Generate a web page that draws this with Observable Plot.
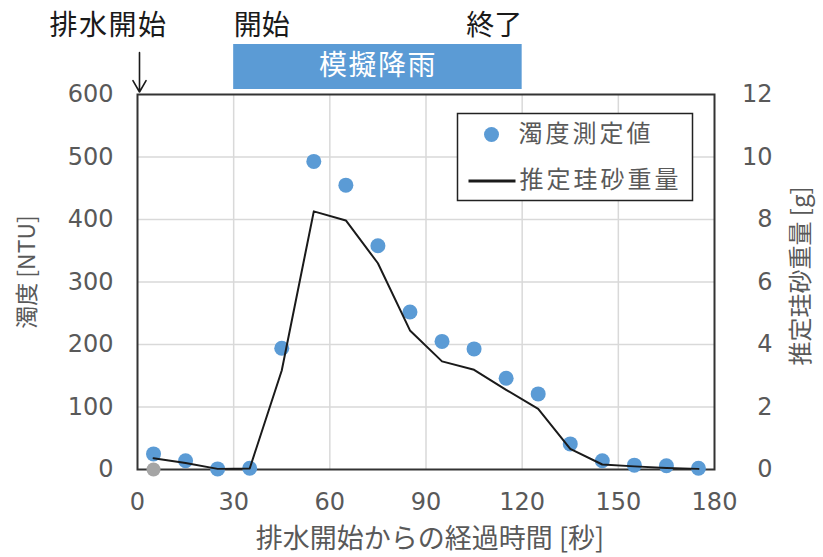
<!DOCTYPE html>
<html><head><meta charset="utf-8">
<script src="https://cdn.jsdelivr.net/npm/d3@7"></script>
<script src="https://cdn.jsdelivr.net/npm/@observablehq/plot@0.6"></script>
<style>body{margin:0;background:#fff} svg{display:block}</style>
</head><body><div id="chart"></div>
<script>
// ---- data ----
const times = [5,15,25,35,45,55,65,75,85,95,105,115,125,135,145,155,165,175];
const turbidity = [25,14,1,2,194,493,455,358,252,205,193,146,121,41,14,7,6,2];
const sandWeight = [0.36,0.21,0.02,0.03,3.17,8.26,7.97,6.6,4.45,3.46,3.19,2.55,1.94,0.66,0.16,0.1,0.05,0.02];
const greyTimes = [5];
const greyValues = [0];
const xTicks = [0,30,60,90,120,150,180];
const yTicks = [0,100,200,300,400,500,600];
const gTicks = [0,2,4,6,8,10,12];
const rainStart = 30, rainEnd = 120, drainStart = 0;
const xLabel = "排水開始からの経過時間 [秒]";
const yLabel = "濁度 [NTU]";
const y2Label = "推定珪砂重量 [g]";
const legendDots = "濁度測定値";
const legendLine = "推定珪砂重量";

// derived tables
const ratio = yTicks[yTicks.length-1] / gTicks[gTicks.length-1];
const turb = times.map((t,i) => ({t, v: turbidity[i]}));
const sand = times.map((t,i) => ({t, g: sandWeight[i]}));
const grey = greyTimes.map((t,i) => ({t, v: greyValues[i]}));
const rain = [{start: rainStart, end: rainEnd, label: "模擬降雨"}];

const font = "'Noto Sans CJK JP', 'Noto Sans', sans-serif";
const numFont = "'DejaVu Sans', sans-serif";
const gray = "#595959";
const blue = "#5b9bd5";

const plot = Plot.plot({
  width: 823, height: 557,
  marginLeft: 137, marginRight: 109, marginTop: 94, marginBottom: 88,
  style: {fontFamily: font, fontSize: "24px", color: gray, background: "white", overflow: "visible"},
  x: {domain: [0, 180]},
  y: {domain: [0, 600]},
  marks: [
    Plot.gridX(xTicks.slice(1, -1), {stroke: "#d9d9d9", strokeOpacity: 1, strokeWidth: 1.5}),
    Plot.gridY(yTicks.slice(1, -1), {stroke: "#d9d9d9", strokeOpacity: 1, strokeWidth: 1.5}),
    Plot.axisX(xTicks, {tickSize: 0, tickPadding: 23, label: null, fontSize: 24, fontFamily: numFont}),
    Plot.axisY(yTicks, {anchor: "left", tickSize: 0, tickPadding: 24, label: null, fontSize: 24, fontFamily: numFont}),
    Plot.axisY(gTicks.map(g => g * ratio), {anchor: "right", tickFormat: d => d / ratio, tickSize: 0, tickPadding: 58, textAnchor: "end", label: null, fontSize: 24, fontFamily: numFont}),
    Plot.frame({stroke: "#333", strokeWidth: 2}),
    // axis titles
    Plot.text([xLabel], {frameAnchor: "bottom", lineAnchor: "middle", textAnchor: "middle", dx: 4, dy: 70, fontSize: 27, fill: gray}),
    Plot.text([yLabel], {frameAnchor: "left", textAnchor: "middle", lineAnchor: "middle", dx: -110, dy: -10, rotate: -90, fontSize: 23, fill: gray}),
    Plot.text([y2Label], {frameAnchor: "right", textAnchor: "middle", lineAnchor: "middle", dx: 87, dy: -6, rotate: -90, fontSize: 24, fill: gray}),
    // rain annotation
    Plot.rect(rain, {x1: "start", x2: "end", insetTop: -50, insetBottom: 380, fill: blue}),
    Plot.text(rain, {x: d => (d.start + d.end) / 2, frameAnchor: "top", lineAnchor: "middle", dy: -28, text: "label", fill: "white", fontSize: 28}),
    Plot.text(rain, {x: "start", frameAnchor: "top", lineAnchor: "middle", dy: -68, text: () => "開始", textAnchor: "start", fill: "#1a1a1a", fontSize: 28}),
    Plot.text(rain, {x: "end", frameAnchor: "top", lineAnchor: "middle", dy: -68, text: () => "終了", textAnchor: "end", fill: "#1a1a1a", fontSize: 28}),
    Plot.text([drainStart], {x: d => d, frameAnchor: "top", lineAnchor: "middle", textAnchor: "middle", dx: -29, dy: -68, text: () => "排水開始", fill: "#1a1a1a", fontSize: 28}),
    Plot.arrow([drainStart], {x1: d => d, x2: d => d, y1: 667, y2: 604, dx: 2, stroke: "#1a1a1a", strokeWidth: 1.6, headLength: 14, bend: 0}),
    // data
    Plot.dot(grey, {x: "t", y: "v", r: 7, fill: "#a5a5a5"}),
    Plot.dot(turb, {x: "t", y: "v", r: 7.5, fill: blue}),
    Plot.line(sand, {x: "t", y: d => d.g * ratio, stroke: "#1a1a1a", strokeWidth: 2}),
    // legend
    Plot.frame({insetLeft: 320, insetRight: 22, insetTop: 19, insetBottom: 269, fill: "white", stroke: "#222", strokeWidth: 1.5}),
    Plot.dot([legendDots], {frameAnchor: "top-left", dx: 354, dy: 40, r: 7.5, fill: blue}),
    Plot.text([legendDots], {frameAnchor: "top-left", lineAnchor: "middle", textAnchor: "start", dx: 381, dy: 40, fontSize: 24, fill: gray}),
    Plot.frame({insetLeft: 331, insetRight: 199, insetTop: 85, insetBottom: 287, fill: "#1a1a1a", stroke: null}),
    Plot.text([legendLine], {frameAnchor: "top-left", lineAnchor: "middle", textAnchor: "start", dx: 382, dy: 86, fontSize: 24, fill: gray})
  ]
});
// letter spacing on legend and annotation labels
d3.select(plot).selectAll("text")
  .filter(function() { return this.textContent === legendDots || this.textContent === legendLine; })
  .attr("letter-spacing", 3);
d3.select(plot).selectAll("text")
  .filter(function() { return this.textContent === "排水開始" || this.textContent === "模擬降雨"; })
  .attr("letter-spacing", 1.5);
document.getElementById("chart").appendChild(plot);
</script></body></html>
